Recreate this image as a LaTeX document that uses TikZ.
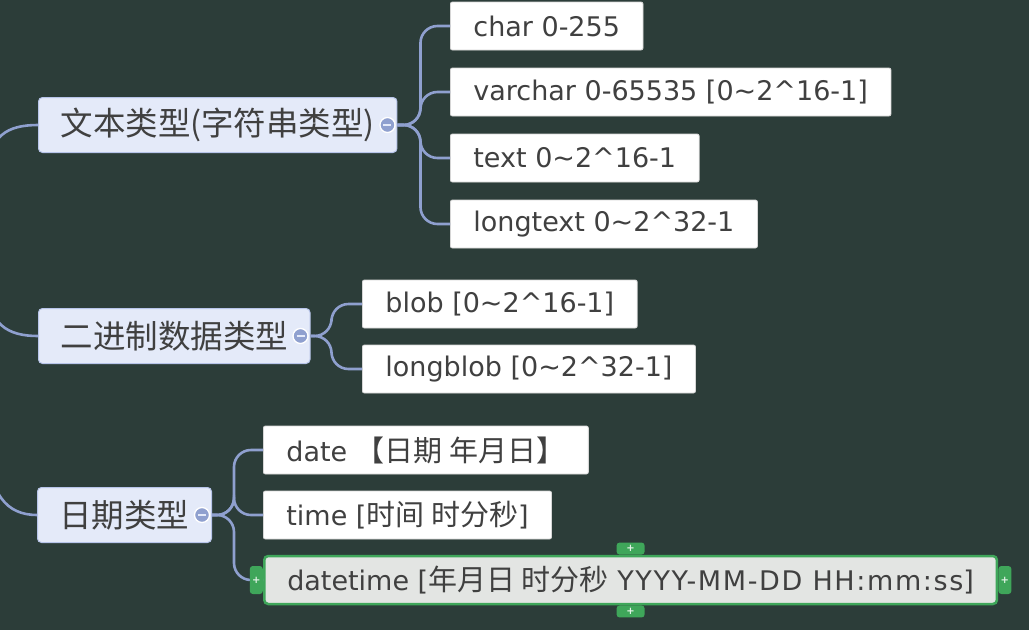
\documentclass[tikz,border=0pt]{standalone}
\usepackage{fontspec}
\setmainfont{DejaVu Sans}
\newfontfamily\cjk{Noto Sans CJK SC}
\usetikzlibrary{calc}
\definecolor{Board}{HTML}{2C3D39}
\definecolor{Branch}{HTML}{8FA0CF}
\definecolor{TopicFill}{HTML}{E4EAF9}
\definecolor{TopicLine}{HTML}{B7C4E9}
\definecolor{LeafLine}{HTML}{D6D6D6}
\definecolor{Ink}{HTML}{404040}
\definecolor{Pick}{HTML}{3FA65A}
\definecolor{PickFill}{HTML}{E3E5E3}
\newcommand{\tld}{\textasciitilde}
\newcommand{\crt}{\textasciicircum}
\newcommand{\zh}[1]{{\cjk\fontsize{29}{30}\selectfont #1}}
\newcommand{\wide}[1]{{\addfontfeatures{LetterSpace=6}#1}}

\begin{document}
\begin{tikzpicture}[x=1pt,y=-1pt,topic/.style={anchor=west, fill=TopicFill, draw=TopicLine, line width=1pt, rounded corners=4pt, minimum height=55pt, inner xsep=22pt, text=Ink, font=\cjk\fontsize{32.5}{36}\selectfont},leaf/.style={anchor=west, fill=white, draw=LeafLine, line width=0.8pt, rounded corners=2pt, minimum height=48pt, inner xsep=23pt, text=Ink, font=\fontsize{27}{30}\selectfont},picked/.style={leaf, fill=PickFill, draw=Pick, line width=2.5pt, rounded corners=4pt},branch/.style={draw=Branch, line width=2.6pt, rounded corners=17pt},fold/.style={circle, fill=Branch, draw=white, line width=1.3pt, minimum size=15pt, inner sep=0pt, path picture={\draw[TopicFill, line width=2pt] ([xshift=-4pt]path picture bounding box.center) -- ([xshift=4pt]path picture bounding box.center);}},tab/.style={fill=Pick, rounded corners=3pt, inner sep=0pt, text=white!85!Pick, font=\fontsize{10}{10}\selectfont\bfseries}]
\useasboundingbox (0,0) rectangle (1029,630);
\clip (0,0) rectangle (1029,630);
\fill[Board] (0,0) rectangle (1029,630);
\node[topic] (txt) at (38,125) {文本类型(字符串类型)};
\node[topic] (bin) at (38,336) {二进制数据类型};
\node[topic] (dat) at (37,515) {日期类型};
\node[leaf] (char) at (450,26) {char 0-255};
\node[leaf] (varchar) at (450,92) {varchar 0-65535 [0\tld2\crt16-1]};
\node[leaf] (text) at (450,158) {text 0\tld2\crt16-1};
\node[leaf] (longtext) at (450,224) {longtext 0\tld2\crt32-1};
\node[leaf] (blob) at (362,304) {blob [0\tld2\crt16-1]};
\node[leaf] (longblob) at (362,369) {longblob [0\tld2\crt32-1]};
\node[leaf] (date) at (263,450) {date \zh{【日期 年月日】}};
\node[leaf] (time) at (263,515) {time [\zh{时间 时分秒}]};
\node[picked] (datetime) at (263,580) {datetime [\zh{年月日 时分秒} \wide{YYYY-MM-DD HH:mm:ss}]};
\coordinate (in1) at (-12,175);
\coordinate (in2) at (-12,285);
\coordinate (in3) at (-12,440);
\draw[branch] (in1) .. controls +(0,-40) and +(-30,0) .. (txt.west);
\draw[branch] (in2) .. controls +(0,40) and +(-30,0) .. (bin.west);
\draw[branch] (in3) .. controls +(0,55) and +(-30,0) .. (dat.west);
\foreach \leafname in {char,varchar,text,longtext}
  \draw[branch] (txt.east) -- ++(23,0) |- (\leafname.west);
\foreach \leafname in {blob,longblob}
  \draw[branch] (bin.east) -- ++(21,0) |- (\leafname.west);
\foreach \leafname in {date,time,datetime}
  \draw[branch] (dat.east) -- ++(22,0) |- (\leafname.west);
\node[fold] (f1) at ($(txt.east)+(-10,0)$) {};
\node[fold] (f2) at ($(bin.east)+(-10,0)$) {};
\node[fold] (f3) at ($(dat.east)+(-10,0)$) {};
\node[tab, anchor=south, minimum width=28pt, minimum height=12pt] (tabN) at (datetime.north) {+};
\node[tab, anchor=north, minimum width=28pt, minimum height=12pt] (tabS) at (datetime.south) {+};
\node[tab, anchor=east, minimum width=13pt, minimum height=28pt] (tabW) at (datetime.west) {+};
\node[tab, anchor=west, minimum width=13pt, minimum height=28pt] (tabE) at (datetime.east) {+};
\end{tikzpicture}
\end{document}
